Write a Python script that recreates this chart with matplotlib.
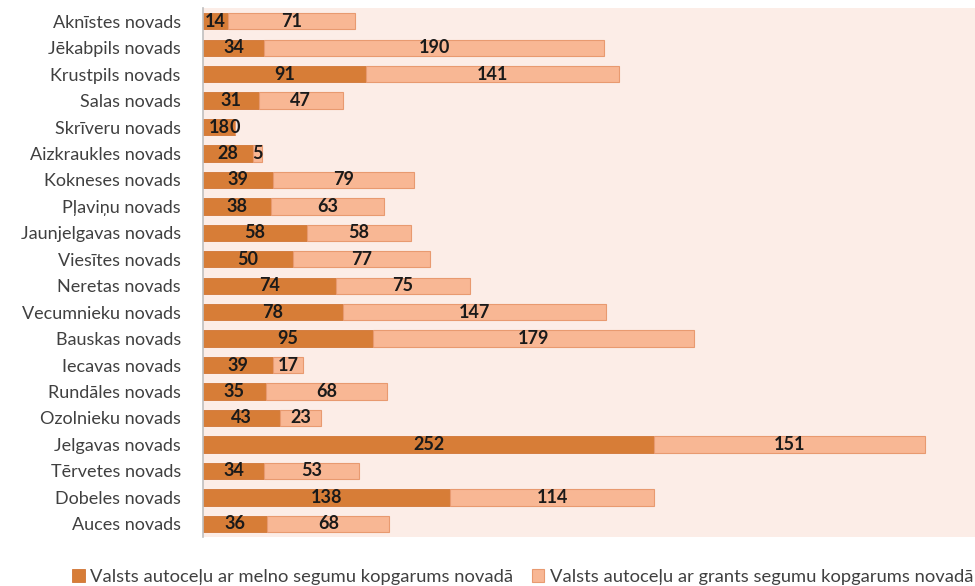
import matplotlib
matplotlib.use("Agg")
import matplotlib.pyplot as plt
import numpy as np

categories = ["Aknīstes novads", "Jēkabpils novads", "Krustpils novads", "Salas novads",
              "Skrīveru novads", "Aizkraukles novads", "Kokneses novads", "Pļaviņu novads",
              "Jaunjelgavas novads", "Viesītes novads", "Neretas novads", "Vecumnieku novads",
              "Bauskas novads", "Iecavas novads", "Rundāles novads", "Ozolnieku novads",
              "Jelgavas novads", "Tērvetes novads", "Dobeles novads", "Auces novads"]
melnais = [14, 34, 91, 31, 18, 28, 39, 38, 58, 50, 74, 78, 95, 39, 35, 43, 252, 34, 138, 36]
grants = [71, 190, 141, 47, 0, 5, 79, 63, 58, 77, 75, 147, 179, 17, 68, 23, 151, 53, 114, 68]
series_names = ["Valsts autoceļu ar melno segumu kopgarums novadā",
                "Valsts autoceļu ar grants segumu kopgarums novadā"]

plt.rcParams['font.family'] = ['Lato', 'DejaVu Sans']

dark = "#d77d37"
light = "#f8b794"
bg = "#fcede7"

fig = plt.figure(figsize=(9.75, 5.86), dpi=100)
ax = fig.add_axes([0.2082, 0.0836, 0.7918, 0.9027])
ax.set_facecolor(bg)

y = np.arange(len(categories))
b1 = ax.barh(y, melnais, height=0.62, color=dark, edgecolor="#d07535", linewidth=0.6,
             label=series_names[0])
b2 = ax.barh(y, grants, left=melnais, height=0.62, color=light, edgecolor="#e89a70",
             linewidth=0.8, label=series_names[1])
ax.bar_label(b1, labels=[str(v) for v in melnais], label_type='center',
             fontsize=13, fontweight='bold', color="#1a1a1a")
ax.bar_label(b2, labels=[str(v) for v in grants], label_type='center',
             fontsize=13, fontweight='bold', color="#1a1a1a")

ax.set_ylim(len(categories) - 0.5, -0.5)
ax.set_xlim(0, 431)
ax.set_yticks(y)
ax.set_yticklabels(categories, fontsize=13, color="#404040")
ax.tick_params(axis='y', length=0, pad=16)
ax.set_xticks([])
for s in ["top", "right", "bottom"]:
    ax.spines[s].set_visible(False)
ax.spines["left"].set_color("#bfbfbf")
ax.spines["left"].set_linewidth(1.2)

fig.legend(handles=[b1, b2], labels=series_names, loc='lower center',
           bbox_to_anchor=(0.536, -0.026), ncol=2, frameon=False, fontsize=13.2,
           handlelength=0.7, handleheight=0.7, handletextpad=0.3, columnspacing=1.0,
           labelcolor="#404040")

fig.savefig("out.png", dpi=100)
